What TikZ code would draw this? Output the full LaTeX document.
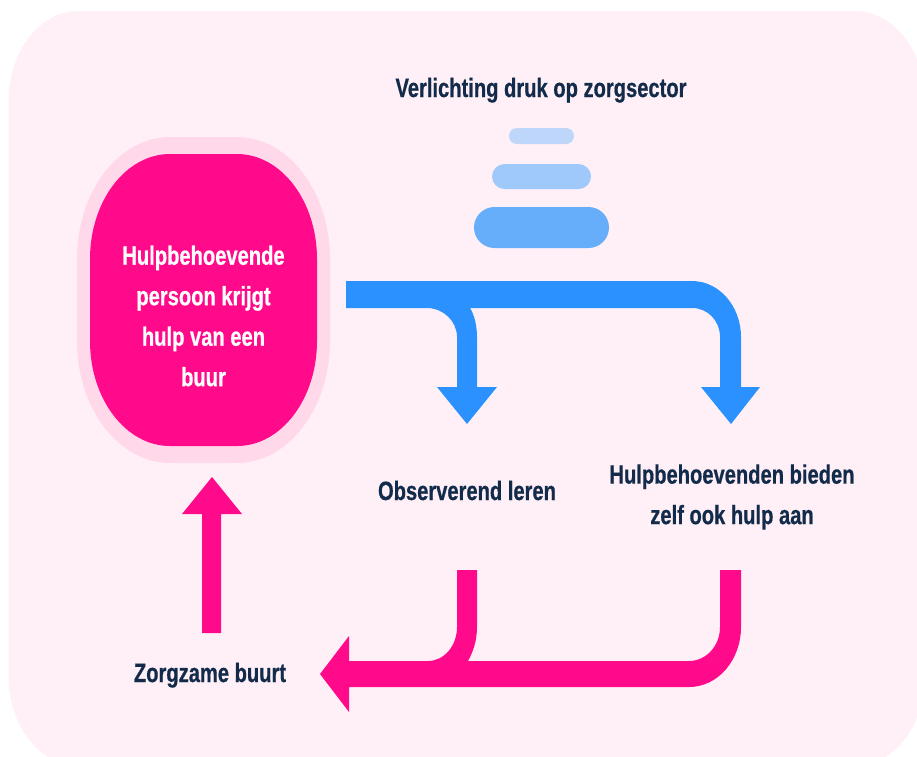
\documentclass[tikz,border=0pt]{standalone}
\usepackage{fontspec}
\setmainfont{Liberation Sans}[FakeStretch=0.76, BoldFeatures={FakeBold=0.6}]
\definecolor{bgpink}{HTML}{FFF0F7}
\definecolor{halo}{HTML}{FFD9EA}
\definecolor{magenta}{HTML}{FF0A8A}
\definecolor{bluearr}{HTML}{2A91FF}
\definecolor{barA}{HTML}{BDD6FA}
\definecolor{barB}{HTML}{9EC9FA}
\definecolor{barC}{HTML}{66AEFA}
\definecolor{navy}{HTML}{132B4A}
\newcommand\ovalfill[7]{% style x1 y1 x2 y2 rx ry
  \fill[#1] ({#2+#6},#3) -- ({#4-#6},#3)
    .. controls ({#4-0.4477*#6},#3) and (#4,{#3+0.4477*#7}) .. (#4,{#3+#7})
    -- (#4,{#5-#7})
    .. controls (#4,{#5-0.4477*#7}) and ({#4-0.4477*#6},#5) .. ({#4-#6},#5)
    -- ({#2+#6},#5)
    .. controls ({#2+0.4477*#6},#5) and (#2,{#5-0.4477*#7}) .. (#2,{#5-#7})
    -- (#2,{#3+#7})
    .. controls (#2,{#3+0.4477*#7}) and ({#2+0.4477*#6},#3) .. ({#2+#6},#3)
    -- cycle;}
\tikzset{
  lbl/.style={inner sep=0pt, text=navy, font={\fontsize{26.5}{40.5}\selectfont\bfseries}},
  barnode/.style={inner sep=0pt, draw=none},
  pinkarrow/.style={fill=magenta},
  bluearrow/.style={fill=bluearr}
}
\begin{document}
\begin{tikzpicture}[x=1pt,y=-1pt]
\useasboundingbox (0,0) rectangle (917,756);
\fill[white] (0,0) rectangle (917,756);
\ovalfill{bgpink}{8.5}{11}{925}{766}{70}{90}
% left node
\ovalfill{halo}{77}{137}{330}{463}{93}{122}
\ovalfill{magenta}{90}{154}{317}{446}{80}{105}
\node[lbl, text=white, align=center] (help) at (203.5,316) {Hulpbehoevende\\persoon krijgt\\hulp van een\\buur};
% title and bars
\node[lbl, anchor=base] (title) at (541,97) {Verlichting druk op zorgsector};
\node[barnode, fill=barA, rounded corners=8pt, minimum width=65pt, minimum height=16pt] (bar1) at (541.5,136) {};
\node[barnode, fill=barB, rounded corners=12.5pt, minimum width=99pt, minimum height=25pt] (bar2) at (541.5,176.5) {};
\node[barnode, fill=barC, rounded corners=20.5pt, minimum width=135pt, minimum height=41pt] (bar3) at (541.5,227.5) {};
% blue split arrow
\fill[bluearrow] (346,281) -- (692,281) .. controls (719,281) and (741,306) .. (741,337)
  -- (741,387) -- (760,387) -- (731,424) -- (701,387) -- (720,387) -- (720,337)
  .. controls (720,321) and (708,308) .. (692,308) -- (470,308)
  .. controls (474,314) and (477,325) .. (477,337)
  -- (477,387) -- (497,387) -- (467,424) -- (437,387) -- (457,387) -- (457,337)
  .. controls (457,321) and (443,308) .. (427,308) -- (346,308) -- cycle;
% labels
\node[lbl, anchor=base] (obs) at (467,500) {Observerend leren};
\node[lbl, align=center] (offer) at (732,497) {Hulpbehoevenden bieden\\zelf ook hulp aan};
\node[lbl, anchor=base] (zorg) at (210,682) {Zorgzame buurt};
% pink merge arrow
\fill[pinkarrow] (457,570) -- (477,570) -- (477,627) .. controls (477,641) and (473,652) .. (468,661)
  -- (689,661) .. controls (706,661) and (720,646) .. (720,627) -- (720,570) -- (741,570) -- (741,627)
  .. controls (741,660) and (718,687) .. (689,687) -- (349,687) -- (349,712) -- (320,674) -- (349,636)
  -- (349,661) -- (428,661) .. controls (444,661) and (457,646) .. (457,627) -- cycle;
% pink up arrow
\fill[pinkarrow] (202,633) -- (202,514) -- (182,514) -- (212,477) -- (242,514) -- (221,514) -- (221,633) -- cycle;
\end{tikzpicture}
\end{document}
